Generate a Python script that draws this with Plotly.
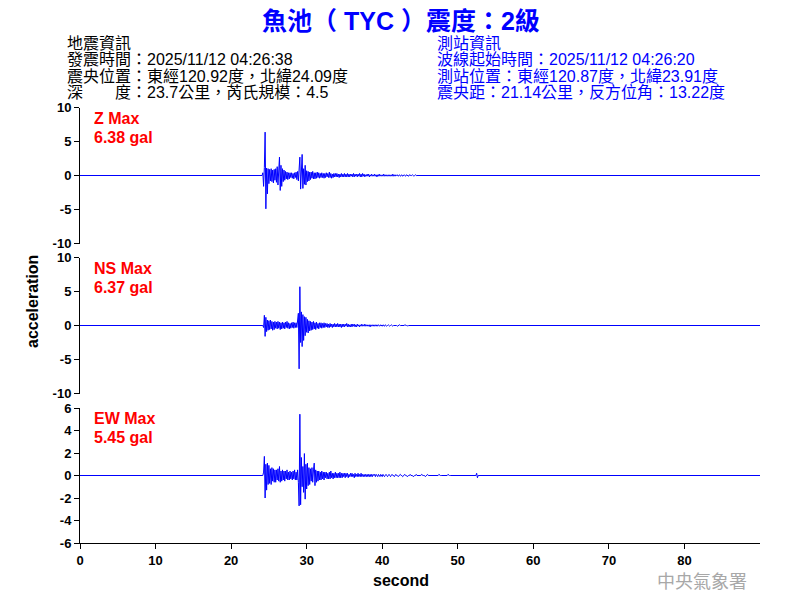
import plotly.graph_objects as go

# Data variables (gal), sampled every 0.1 s starting at 24.0 s
t_start = 24.0
dt = 0.1

z_vals = [
    0, 0, 0.4, -1.6, 1.2, 6.38, -4.9, 1.1, -2.7, 1.0,
    -1.2, 0.9, -0.8, 1.0, -0.9, 0.8, -1.1, 0.9, -0.7, 1.0,
    -1.0, 1.3, -1.4, 1.6, 2.7, -2.2, 1.5, -1.6, 1.0, -0.9,
    0.8, -0.7, 0.6, -0.5, 0.5, -0.6, 0.4, -0.5, 0.4, -0.3,
    0.4, -0.4, 0.3, -0.5, 0.4, -0.3, 0.5, -0.6, 0.6, -0.8,
    1.2, 2.7, -2.0, 1.8, 3.1, -1.9, 1.0, -1.3, 1.5, -1.4,
    0.7, -0.9, 0.6, -0.8, 0.5, -0.6, 0.5, -0.4, 0.6, -0.5,
    0.4, -0.5, 0.4, -0.4, 0.5, -0.3, 0.4, -0.4, 0.3, -0.3,
    0.4, -0.3, 0.3, -0.4, 0.3, -0.3, 0.4, -0.2, 0.3, -0.3,
    0.5, -0.3, 0.3, -0.4, 0.2, -0.3, 0.3, -0.2, 0.3, -0.2,
    0.3, -0.2, 0.2, -0.3, 0.2, -0.2, 0.3, -0.2, 0.2, -0.2,
    0.3, -0.2, 0.2, -0.2, 0.3, -0.2, 0.2, -0.2, 0.2, -0.1,
    0.2, -0.2, 0.3, -0.2, 0.2, -0.1, 0.2, -0.2, 0.2, -0.1,
    0.3, -0.2, 0.2, -0.2, 0.3, -0.1, 0.2, -0.2, 0.1, -0.1,
    0.2, -0.1, 0.2, -0.2, 0.1, -0.1, 0.2, -0.1, 0.1, -0.1,
    0.2, -0.1, 0.1, -0.2, 0.1, -0.1, 0.2, -0.1, 0.1, -0.1,
    0.1, -0.1, 0.2, -0.1, 0.1, -0.1, 0.1, -0.1, 0.1, -0.1,
    0.1, -0.1, 0.1, -0.1, 0.2, -0.1, 0.1, -0.1, 0.1, 0,
    0.1, -0.1, 0, 0.1, -0.1, 0, 0.1, -0.1, 0, 0.1,
    0, -0.1, 0.1, 0, 0, -0.1, 0.1, 0, 0, 0,
    0.1, 0, -0.1, 0, 0.1, 0, 0, 0, 0, 0,
    0, 0.1, 0, 0, 0, 0.1, 0, 0, 0, 0,
]

ns_vals = [
    0, 0, 0, -0.3, 1.5, -1.6, 1.2, -0.9, 0.8, -0.7,
    0.7, -0.6, 0.8, -0.5, 0.6, -0.7, 0.5, -0.6, 0.6, -0.4,
    0.5, -0.5, 0.6, -0.4, 0.5, -0.6, 0.4, -0.5, 0.5, -0.4,
    0.4, -0.5, 0.5, -0.3, 0.6, -0.4, 0.4, -0.5, 0.3, -0.4,
    0.4, -0.3, 0.5, -0.4, 0.4, -0.3, 0.4, -0.3, 0.8, 1.8,
    -6.37, 5.7, -2.5, 2.0, -3.1, 1.6, -2.2, 1.3, -1.5, 1.2,
    -1.0, 0.9, -1.1, 0.7, -0.8, 0.6, -0.7, 0.5, -0.6, 0.6,
    -0.5, 0.4, -0.6, 0.5, -0.4, 0.3, -0.5, 0.4, -0.3, 0.4,
    -0.4, 0.3, -0.3, 0.4, -0.3, 0.3, -0.2, 0.3, -0.3, 0.2,
    -0.3, 0.3, -0.2, 0.2, -0.3, 0.2, -0.2, 0.3, -0.2, 0.2,
    -0.2, 0.3, -0.2, 0.2, -0.2, 0.2, -0.3, 0.2, -0.2, 0.2,
    -0.2, 0.2, -0.1, 0.3, -0.2, 0.2, -0.2, 0.1, -0.2, 0.2,
    -0.2, 0.2, -0.1, 0.2, -0.2, 0.1, -0.2, 0.2, -0.1, 0.1,
    -0.2, 0.1, -0.1, 0.2, -0.1, 0.1, -0.1, 0.2, -0.1, 0.1,
    -0.1, 0.1, -0.1, 0.1, -0.2, 0.1, -0.1, 0.1, -0.1, 0.1,
    -0.1, 0.1, -0.1, 0.1, -0.1, 0.1, 0, -0.1, 0.1, 0,
    -0.1, 0.1, 0, -0.1, 0.1, 0, -0.1, 0, 0.1, 0,
    -0.1, 0, 0.1, 0, -0.1, 0, 0, 0.1, 0, 0,
    -0.1, 0, 0, 0.1, 0, 0, -0.1, 0, 0, 0,
    0.1, 0, 0, 0, -0.1, 0, 0, 0, 0.1, 0,
    0, 0, 0, 0, 0.1, 0, 0, 0, 0, 0,
    0, 0, 0, 0, 0, 0.1, 0, 0, 0, 0,
]

ew_vals = [
    0, 0, 0, 0.3, 1.7, -2.0, 1.0, -1.3, 1.1, -0.8,
    0.9, -0.7, 0.6, -0.8, 0.7, -0.5, 0.6, -0.6, 0.5, -0.6,
    0.5, -0.4, 0.6, -0.5, 0.8, -0.6, 0.4, -0.5, 0.5, -0.4,
    0.4, -0.5, 0.4, -0.3, 0.5, -0.4, 0.3, -0.4, 0.4, -0.3,
    0.3, -0.4, 0.4, -0.3, 0.5, -0.4, 0.3, -0.4, 0.5, -0.6,
    -2.7, 5.45, -2.6, 1.6, -1.0, 0.8, -1.5, 1.95, -2.1, 1.0,
    -1.2, 1.1, -0.9, 0.7, -0.8, 0.6, -0.5, 0.7, -0.6, 0.5,
    1.1, -0.9, 0.5, -0.6, 0.4, -0.5, 0.4, -0.4, 0.3, -0.4,
    0.4, -0.3, 0.3, -0.4, 0.3, -0.2, 0.3, -0.3, 0.2, -0.3,
    0.3, -0.3, 0.4, -0.2, 0.2, -0.3, 0.2, -0.2, 0.3, -0.2,
    0.2, -0.2, 0.2, -0.2, 0.3, -0.2, 0.2, -0.2, 0.2, -0.1,
    0.2, -0.2, 0.2, -0.1, 0.2, -0.2, 0.1, -0.1, 0.2, -0.1,
    0.2, -0.1, 0.1, -0.2, 0.2, -0.1, 0.1, -0.1, 0.2, -0.1,
    0.1, -0.1, 0.2, -0.1, 0.1, -0.1, 0.1, -0.1, 0.1, -0.1,
    0.1, -0.1, 0.1, -0.1, 0.1, -0.1, 0.1, -0.1, 0.1, 0,
    0.1, -0.1, 0.1, 0, -0.1, 0.1, 0, -0.1, 0.1, 0,
    -0.1, 0.1, 0, -0.1, 0, 0.1, 0, -0.1, 0, 0.1,
    0, -0.1, 0, 0.1, 0, 0, -0.1, 0, 0.1, 0,
    0, -0.1, 0, 0, 0.1, 0, 0, -0.1, 0, 0,
    0.1, 0, 0, -0.1, 0, 0, 0, 0.1, 0, 0,
    0, -0.1, 0, 0, 0, 0.1, 0, 0, 0, 0,
    0, 0, 0.1, 0, 0, 0, 0, -0.1, 0, 0,
    0.1, 0, 0, 0, 0, 0, 0, 0, 0, 0,
    0, 0, 0, 0, 0, 0.1, 0, 0, 0, 0,
    0, 0, 0, 0, 0, 0, 0, 0.1, 0, 0,
    0, 0, 0, 0, 0, 0, 0, 0, 0, 0,
    0, 0, 0, 0, 0, 0, 0, 0, 0, 0,
    0, 0, 0, 0, 0, 0, 0, 0, 0, 0,
    0, 0, 0, 0, 0, 0.2, -0.2, 0, 0, 0,
]

x_end = 90
components = ['Z', 'NS', 'EW']
max_gal = ['6.38', '6.37', '5.45']

x_ticks = [0, 10, 20, 30, 40, 50, 60, 70, 80]
y_ticks_big = [-10, -5, 0, 5, 10]
y_ticks_ew = [-6, -4, -2, 0, 2, 4, 6]

title_text = '魚池（ TYC ）震度：2級'
quake_info = ['地震資訊',
              '發震時間：2025/11/12 04:26:38',
              '震央位置：東經120.92度，北緯24.09度',
              '深　　度：23.7公里，芮氏規模：4.5']
station_info = ['測站資訊',
                '波線起始時間：2025/11/12 04:26:20',
                '測站位置：東經120.87度，北緯23.91度',
                '震央距：21.14公里，反方位角：13.22度']


def seconds(vals):
    return [0] + [round(t_start + i * dt, 2) for i in range(len(vals))] + [x_end]


# page pixels -> paper coords (plot area is x 80..760, y 107..543 on the page;
# the page body adds an 8px margin, so the figure itself is 784x584)
def px(x):
    return (x - 80) / 680


def py(y):
    return (543 - y) / 436


FONT = 'Liberation Sans, Arial, Noto Sans CJK TC'
BLUE = '#0000ff'

fig = go.Figure()
for i, vals in enumerate([z_vals, ns_vals, ew_vals]):
    suffix = '' if i == 0 else str(i + 1)
    fig.add_trace(go.Scatter(
        x = seconds(vals),
        y = [0] + vals + [0],
        mode = 'lines',
        line = dict(color = BLUE, width = 1),
        xaxis = 'x' + suffix,
        yaxis = 'y' + suffix,
        hoverinfo = 'skip',
        showlegend = False,
    ))

tickfont = dict(family = FONT, size = 13, color = 'black', weight = 'bold')

hidden_x = dict(range = [0, x_end], visible = False, showgrid = False, zeroline = False)


def y_axis(domain, ticks):
    return dict(
        domain = domain,
        range = [ticks[0], ticks[-1]],
        tickvals = ticks,
        ticktext = [str(t) for t in ticks],
        ticks = 'outside',
        ticklen = 5,
        tickcolor = 'black',
        showline = True,
        linecolor = 'black',
        linewidth = 1,
        showgrid = False,
        zeroline = False,
        tickfont = tickfont,
    )


annotations = []
annotations.append(dict(x = px(401), y = py(21), text = '<b>' + title_text + '</b>',
                        font = dict(family = FONT, size = 25, color = BLUE)))
for k, line in enumerate(quake_info):
    annotations.append(dict(x = px(66), y = py(43 + k * 16.6), text = line, xanchor = 'left',
                            font = dict(family = FONT, size = 16, color = 'black')))
for k, line in enumerate(station_info):
    annotations.append(dict(x = px(436), y = py(43 + k * 16.6), text = line, xanchor = 'left',
                            font = dict(family = FONT, size = 16, color = BLUE)))
for k, (comp, g) in enumerate(zip(components, max_gal)):
    top = 118 + k * 150
    annotations.append(dict(x = px(93), y = py(top), text = '<b>%s Max</b>' % comp, xanchor = 'left',
                            font = dict(family = FONT, size = 16, color = 'red')))
    annotations.append(dict(x = px(93), y = py(top + 19), text = '<b>%s gal</b>' % g, xanchor = 'left',
                            font = dict(family = FONT, size = 16, color = 'red')))
annotations.append(dict(x = px(32), y = py(302), text = '<b>acceleration</b>', textangle = -90,
                        font = dict(family = FONT, size = 16, color = 'black')))
annotations.append(dict(x = px(401), y = py(580), text = '<b>second</b>',
                        font = dict(family = FONT, size = 16, color = 'black')))
annotations.append(dict(x = px(702), y = py(580), text = '中央氣象署',
                        font = dict(family = 'Noto Sans CJK TC', size = 18, color = '#a8a8a8')))
for a in annotations:
    a.update(xref = 'paper', yref = 'paper', showarrow = False, yanchor = 'middle', borderpad = 0)
    a.setdefault('xanchor', 'center')

fig.update_layout(
    width = 784,
    height = 584,
    margin = dict(l = 72, r = 32, t = 99, b = 49),
    paper_bgcolor = 'white',
    plot_bgcolor = 'white',
    xaxis = dict(hidden_x, anchor = 'y'),
    xaxis2 = dict(hidden_x, anchor = 'y2'),
    xaxis3 = dict(
        anchor = 'y3',
        range = [0, x_end],
        tickvals = x_ticks,
        ticks = 'outside',
        ticklen = 5,
        tickcolor = 'black',
        showline = True,
        linecolor = 'black',
        linewidth = 1,
        showgrid = False,
        zeroline = False,
        tickfont = tickfont,
    ),
    yaxis = dict(y_axis([py(243.5), py(107.5)], y_ticks_big), anchor = 'x'),
    yaxis2 = dict(y_axis([py(393.5), py(257.5)], y_ticks_big), anchor = 'x2'),
    yaxis3 = dict(y_axis([0, py(408)], y_ticks_ew), anchor = 'x3'),
    annotations = annotations,
)

fig.write_html("out.html")
